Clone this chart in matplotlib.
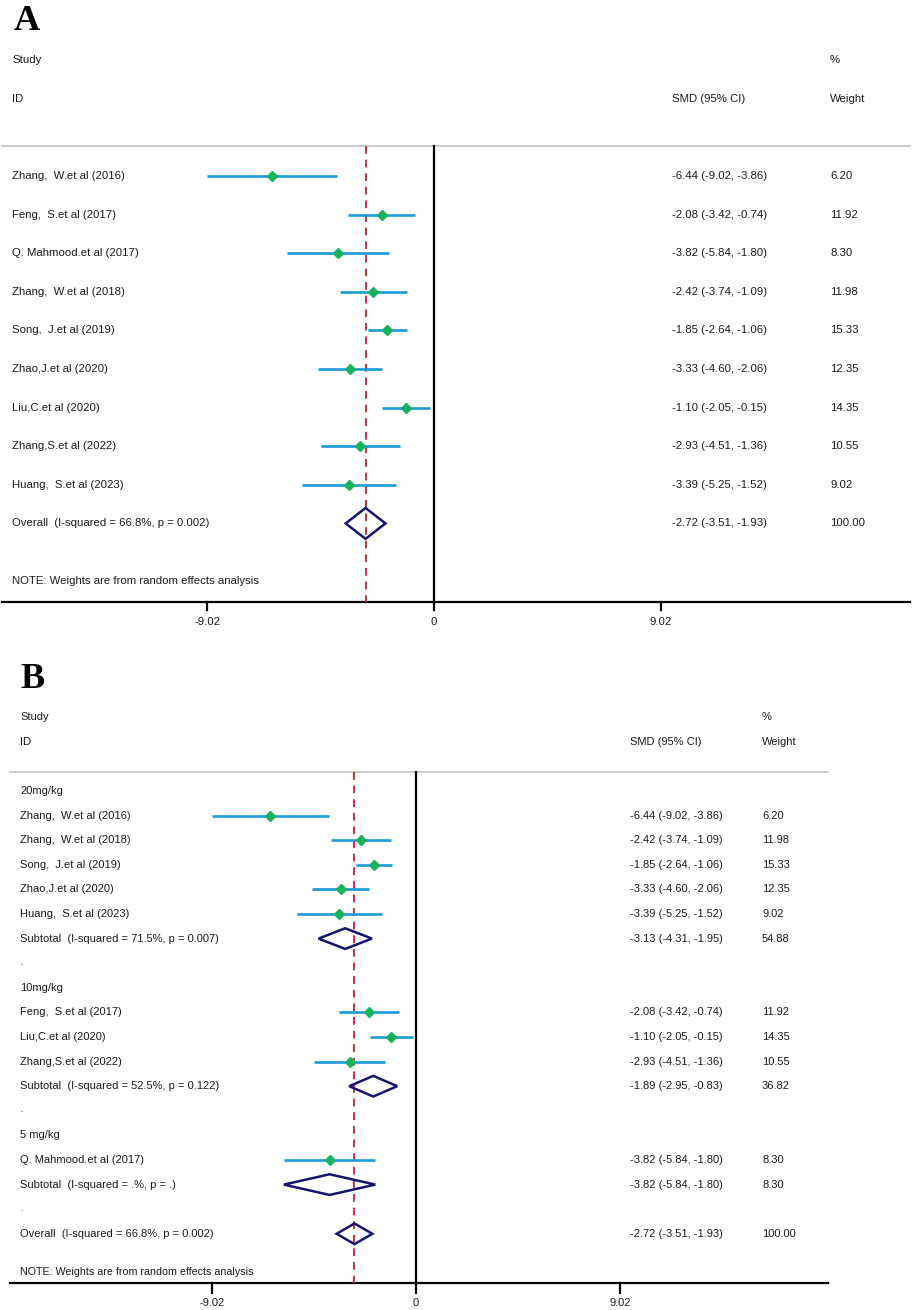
import matplotlib.pyplot as plt
from matplotlib.patches import Polygon

plt.rcParams['font.family'] = ['Liberation Sans', 'DejaVu Sans']

# ---- panel A : all studies ----
a_labels = ['Zhang,  W.et al (2016)', 'Feng,  S.et al (2017)', 'Q. Mahmood.et al (2017)',
            'Zhang,  W.et al (2018)', 'Song,  J.et al (2019)', 'Zhao,J.et al (2020)',
            'Liu,C.et al (2020)', 'Zhang,S.et al (2022)', 'Huang,  S.et al (2023)']
a_es = [-6.44, -2.08, -3.82, -2.42, -1.85, -3.33, -1.10, -2.93, -3.39]
a_lo = [-9.02, -3.42, -5.84, -3.74, -2.64, -4.60, -2.05, -4.51, -5.25]
a_hi = [-3.86, -0.74, -1.80, -1.09, -1.06, -2.06, -0.15, -1.36, -1.52]
a_wt = [6.20, 11.92, 8.30, 11.98, 15.33, 12.35, 14.35, 10.55, 9.02]

overall_label = 'Overall  (I-squared = 66.8%, p = 0.002)'
overall_es, overall_lo, overall_hi, overall_wt = -2.72, -3.51, -1.93, 100.00

# ---- panel B : subgroups by dose ----
b_groups = ['20mg/kg', '10mg/kg', '5 mg/kg']
b_labels = [['Zhang,  W.et al (2016)', 'Zhang,  W.et al (2018)', 'Song,  J.et al (2019)',
             'Zhao,J.et al (2020)', 'Huang,  S.et al (2023)'],
            ['Feng,  S.et al (2017)', 'Liu,C.et al (2020)', 'Zhang,S.et al (2022)'],
            ['Q. Mahmood.et al (2017)']]
b_es = [[-6.44, -2.42, -1.85, -3.33, -3.39], [-2.08, -1.10, -2.93], [-3.82]]
b_lo = [[-9.02, -3.74, -2.64, -4.60, -5.25], [-3.42, -2.05, -4.51], [-5.84]]
b_hi = [[-3.86, -1.09, -1.06, -2.06, -1.52], [-0.74, -0.15, -1.36], [-1.80]]
b_wt = [[6.20, 11.98, 15.33, 12.35, 9.02], [11.92, 14.35, 10.55], [8.30]]
b_sub_labels = ['Subtotal  (I-squared = 71.5%, p = 0.007)',
                'Subtotal  (I-squared = 52.5%, p = 0.122)',
                'Subtotal  (I-squared = .%, p = .)']
b_sub_es = [-3.13, -1.89, -3.82]
b_sub_lo = [-4.31, -2.95, -5.84]
b_sub_hi = [-1.95, -0.83, -1.80]
b_sub_wt = [54.88, 36.82, 8.30]

xticks = [-9.02, 0, 9.02]
note = 'NOTE: Weights are from random effects analysis'

LINE_C = '#1a9ad8'
DOT_C = '#17b35c'
DIA_C = '#14146e'
RED_C = '#c8323c'
TXT_C = '#1a1a1a'

W, H = 913, 1310
fig = plt.figure(figsize=(W / 100, H / 100), dpi=100)


def make_axes(top, bot, zero, ppu, row0, step):
    ax = fig.add_axes([0, 1 - bot / H, 1, (bot - top) / H])
    ax.set_xlim(-zero / ppu, (W - zero) / ppu)
    ax.set_ylim((bot - row0) / step, (top - row0) / step)
    ax.axis('off')
    px = lambda p: (p - zero) / ppu
    py = lambda p: (p - row0) / step
    return ax, px, py


def study(ax, r, es, lo, hi, ms):
    ax.plot([lo, hi], [r, r], color=LINE_C, lw=1.9, solid_capstyle='butt', zorder=3)
    ax.plot(es, r, marker='D', color=DOT_C, ms=ms, mec=DOT_C, zorder=4)


def diamond(ax, r, es, lo, hi, hh):
    ax.add_patch(Polygon([[lo, r], [es, r - hh], [hi, r], [es, r + hh]], closed=True,
                         fill=False, ec=DIA_C, lw=1.8, joinstyle='miter', zorder=4))


def row_text(ax, px, r, label, es, lo, hi, wt, cols, fs):
    ax.text(px(cols[0]), r, label, fontsize=fs, color=TXT_C, va='center')
    if es is not None:
        ax.text(px(cols[1]), r, f'{es:.2f} ({lo:.2f}, {hi:.2f})', fontsize=fs, color=TXT_C, va='center')
        ax.text(px(cols[2]), r, f'{wt:.2f}', fontsize=fs, color=TXT_C, va='center')


def frame(ax, px, py, cols, fs, top_y, axis_y, x0, x1, tick_len, lab_y):
    ax.text(px(cols[0]), -3, 'Study', fontsize=fs, color=TXT_C, va='center')
    ax.text(px(cols[0]), -2, 'ID', fontsize=fs, color=TXT_C, va='center')
    ax.text(px(cols[1]), -2, 'SMD (95% CI)', fontsize=fs, color=TXT_C, va='center')
    ax.text(px(cols[2]), -3, '%', fontsize=fs, color=TXT_C, va='center')
    ax.text(px(cols[2]), -2, 'Weight', fontsize=fs, color=TXT_C, va='center')
    ax.plot([px(x0), px(x1)], [py(top_y)] * 2, color='#c8c8c8', lw=1.3)
    ax.plot([px(x0), px(x1)], [py(axis_y)] * 2, color='black', lw=1.6)
    ax.plot([0, 0], [py(top_y), py(axis_y)], color='black', lw=1.6, zorder=2)
    ax.plot([overall_es, overall_es], [py(top_y), py(axis_y)], color=RED_C, lw=1.4,
            dashes=(4, 3), zorder=2)
    for t in xticks:
        ax.plot([t, t], [py(axis_y), py(axis_y + tick_len)], color='black', lw=1.6)
        ax.text(t, py(lab_y), f'{t:g}' if t else '0', fontsize=fs, color=TXT_C,
                ha='center', va='center')


# panel A
axA, pxA, pyA = make_axes(0, 640, 434, 227 / 9.02, 176, 38.6)
colsA = (12, 672, 830)
fsA = 8.2
fig.text(14 / W, 1 - 30 / H, 'A', fontsize=26, fontweight='bold',
         family='Liberation Serif', va='baseline')
frame(axA, pxA, pyA, colsA, fsA, 146, 602, 2, 910, 8, 622)
for i in range(len(a_labels)):
    study(axA, i, a_es[i], a_lo[i], a_hi[i], 5)
    row_text(axA, pxA, i, a_labels[i], a_es[i], a_lo[i], a_hi[i], a_wt[i], colsA, fsA)
r = len(a_labels)
diamond(axA, r, overall_es, overall_lo, overall_hi, 0.4)
row_text(axA, pxA, r, overall_label, overall_es, overall_lo, overall_hi, overall_wt, colsA, fsA)
axA.text(pxA(12), r + 1.5, note, fontsize=fsA, color=TXT_C, va='center')

# panel B
axB, pxB, pyB = make_axes(640, 1310, 416, 204 / 9.02, 791, 24.6)
colsB = (20, 630, 762)
fsB = 8.0
fig.text(20 / W, 1 - 688 / H, 'B', fontsize=26, fontweight='bold',
         family='Liberation Serif', va='baseline')
frame(axB, pxB, pyB, colsB, fsB, 772, 1283, 10, 828, 10, 1303)
r = 0
for g in range(len(b_groups)):
    row_text(axB, pxB, r, b_groups[g], None, None, None, None, colsB, fsB)
    r += 1
    for j in range(len(b_labels[g])):
        study(axB, r, b_es[g][j], b_lo[g][j], b_hi[g][j], 4.6)
        row_text(axB, pxB, r, b_labels[g][j], b_es[g][j], b_lo[g][j], b_hi[g][j],
                 b_wt[g][j], colsB, fsB)
        r += 1
    diamond(axB, r, b_sub_es[g], b_sub_lo[g], b_sub_hi[g], 0.42)
    row_text(axB, pxB, r, b_sub_labels[g], b_sub_es[g], b_sub_lo[g], b_sub_hi[g],
             b_sub_wt[g], colsB, fsB)
    r += 1
    axB.text(pxB(20), r, '.', fontsize=fsB - 2, color=TXT_C, va='center')
    r += 1
diamond(axB, r, overall_es, overall_lo, overall_hi, 0.42)
row_text(axB, pxB, r, overall_label, overall_es, overall_lo, overall_hi, overall_wt, colsB, fsB)
axB.text(pxB(20), r + 1.55, note, fontsize=fsB - 0.3, color=TXT_C, va='center')

fig.savefig('out.png', dpi=100, facecolor='white')
